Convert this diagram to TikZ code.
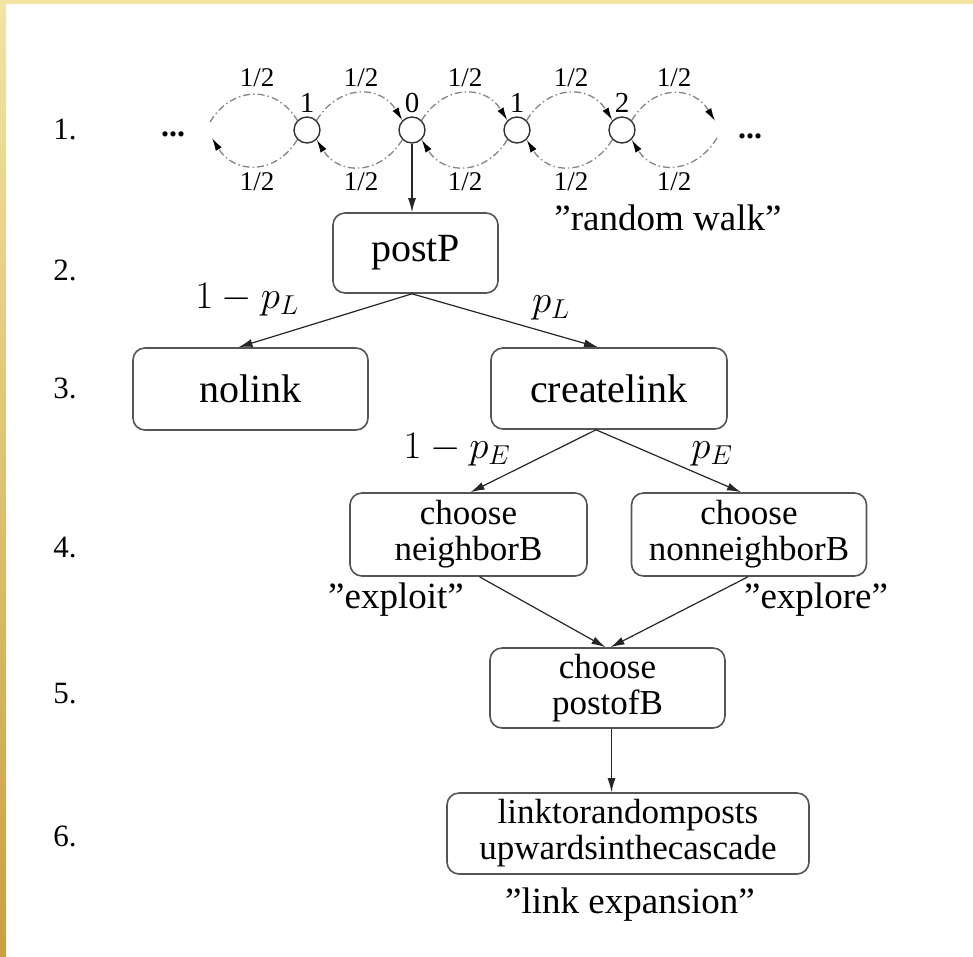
\RequirePackage{fix-cm}
\documentclass[tikz,border=0pt]{standalone}
\usepackage[no-math]{fontspec}
\setmainfont{Liberation Serif}
\usetikzlibrary{arrows.meta,calc}
\definecolor{goldA}{HTML}{F3E4A2}
\definecolor{goldB}{HTML}{C8A13E}
\definecolor{boxgray}{HTML}{555555}
\definecolor{arcgray}{HTML}{858585}
\begin{document}
\begin{tikzpicture}[x=1pt,y=-1pt,
  box/.style={draw=boxgray, line width=1.6pt, rounded corners=12pt, inner sep=0pt, align=center},
  bigtxt/.style={font=\fontsize{40}{44}\selectfont},
  smalltxt/.style={font=\fontsize{35}{36}\selectfont},
  conn/.style={draw=black!85, line width=1.2pt, -{Latex[length=14pt,width=8pt]}},
  walk/.style={draw=arcgray, line width=1.3pt, dash pattern=on 7pt off 3pt on 1.5pt off 3pt,
     -{Latex[length=13pt,width=7pt,color=black]}},
  walkplain/.style={draw=arcgray, line width=1.3pt, dash pattern=on 7pt off 3pt on 1.5pt off 3pt},
  statenode/.style={circle, draw=black!80, line width=1.4pt, minimum size=26pt, inner sep=0pt},
  halflab/.style={font=\fontsize{27}{29}\selectfont, inner sep=0pt},
  numlab/.style={font=\fontsize{29}{31}\selectfont, inner sep=0pt},
  dotlab/.style={font=\fontsize{32}{34}\selectfont\bfseries, inner sep=0pt},
  steplab/.style={font=\fontsize{31}{33}\selectfont, inner sep=0pt},
  quotelab/.style={font=\fontsize{37}{40}\selectfont, inner sep=0pt},
  mathlab/.style={font=\fontsize{39}{42}\selectfont, inner sep=0pt}
]
% background and border
\useasboundingbox (0,0) rectangle (973,956);
\fill[white] (0,0) rectangle (973,956);
\fill[goldA] (0,0) rectangle (973,4);
\shade[top color=goldA, bottom color=goldB] (0,0) rectangle (6,956);

% step labels
\node[steplab] (s1) at (65,129) {1.};
\node[steplab] (s2) at (65,270) {2.};
\node[steplab] (s3) at (65,388) {3.};
\node[steplab] (s4) at (65,548) {4.};
\node[steplab] (s5) at (65,694) {5.};
\node[steplab] (s6) at (65,836) {6.};

% random walk
\node[statenode] (c1) at (307,130) {};
\node[statenode] (c2) at (412,130) {};
\node[statenode] (c3) at (517,130) {};
\node[statenode] (c4) at (622,130) {};
\node[numlab] (n1) at (307,103) {1};
\node[numlab] (n2) at (412,103) {0};
\node[numlab] (n3) at (517,103) {1};
\node[numlab] (n4) at (622,103) {2};
\coordinate (Lu) at (210,122);
\coordinate (Ld) at (212,138);
\coordinate (Ru) at (715,121);
\coordinate (Rd) at (717,138);
\node[dotlab] (ldots) at (173,134) {...};
\node[dotlab] (rdots) at (750,136) {...};

\draw[walkplain] (Lu) .. controls +(22,-36) and +(-22,-36) .. (c1.135);
\draw[walk] (c1.225) .. controls +(-22,36) and +(22,36) .. (Ld);
\draw[walk] (c1.45) .. controls +(22,-36) and +(-22,-36) .. (c2.135);
\draw[walk] (c2.225) .. controls +(-22,36) and +(22,36) .. (c1.315);
\draw[walk] (c2.45) .. controls +(22,-36) and +(-22,-36) .. (c3.135);
\draw[walk] (c3.225) .. controls +(-22,36) and +(22,36) .. (c2.315);
\draw[walk] (c3.45) .. controls +(22,-36) and +(-22,-36) .. (c4.135);
\draw[walk] (c4.225) .. controls +(-22,36) and +(22,36) .. (c3.315);
\draw[walk] (c4.45) .. controls +(22,-36) and +(-22,-36) .. (Ru);
\draw[walk] (Rd) .. controls +(-22,36) and +(22,36) .. (c4.315);

\foreach \x/\n in {257/a,361/b,465/c,571/d,674/e}{
  \node[halflab] (t\n) at (\x,78) {1/2};
  \node[halflab] (b\n) at (\x,182) {1/2};
}
\node[quotelab] (rw) at (668,218) {”random walk”};

% boxes
\node[box, bigtxt, minimum width=165pt, minimum height=80pt] (post) at (415.5,253) {postP};
\node[box, bigtxt, minimum width=235pt, minimum height=82pt] (nolink) at (250.5,389) {nolink};
\node[box, bigtxt, minimum width=236pt, minimum height=81pt] (create) at (609,388.5) {createlink};
\node[box, smalltxt, minimum width=237pt, minimum height=83pt] (nb) at (468.5,534.5) {choose\\neighborB};
\node[box, smalltxt, minimum width=235pt, minimum height=83pt] (nnb) at (749,534.5) {choose\\nonneighborB};
\node[box, smalltxt, minimum width=235pt, minimum height=80pt] (pob) at (607.5,688) {choose\\postofB};
\node[box, smalltxt, minimum width=362pt, minimum height=81pt] (lk) at (628,833.5) {linktorandomposts\\upwardsinthecascade};

% connectors
\coordinate (pobs) at ($(pob.south)+(4,0)$);
\draw[conn] (c2.south) -- (c2.south |- post.north);
\draw[conn] (post.south -| c2) -- ($(nolink.north)+(-12,0)$);
\draw[conn] (post.south -| c2) -- ($(create.north)+(-11,0)$);
\draw[conn] ($(create.south)+(-13,0)$) -- ($(nb.north)+(2,0)$);
\draw[conn] ($(create.south)+(-13,0)$) -- ($(nnb.north)+(-8,0)$);
\draw[conn] ($(nb.south)+(11,0)$) -- ($(pob.north)+(-2,0)$);
\draw[conn] ($(nnb.south)+(-1,0)$) -- ($(pob.north)+(3,0)$);
\draw[conn] (pobs) -- (pobs |- lk.north);

% edge labels
\node[mathlab] (l1) at (247,300) {$1-p_L$};
\node[mathlab] (l2) at (551,308) {$p_L$};
\node[mathlab] (l3) at (457,450) {$1-p_E$};
\node[mathlab] (l4) at (712,454) {$p_E$};
\node[quotelab] (ex1) at (396,600) {”exploit”};
\node[quotelab] (ex2) at (816,600) {”explore”};
\node[quotelab] (lex) at (630,905) {”link expansion”};
\end{tikzpicture}
\end{document}
